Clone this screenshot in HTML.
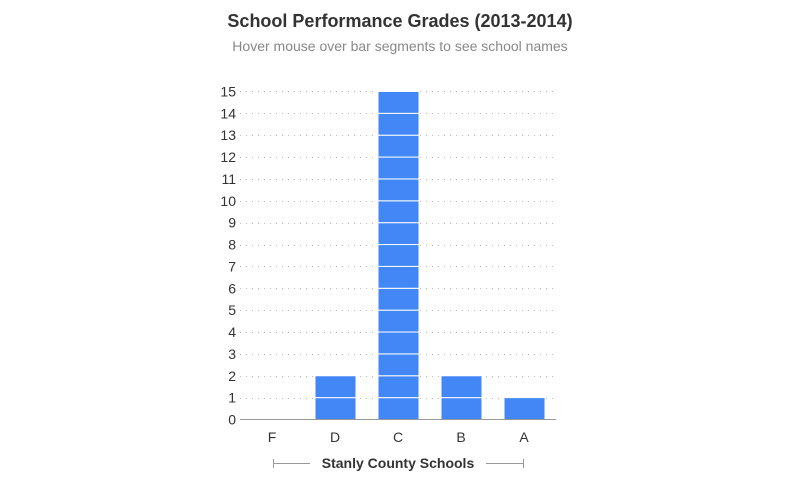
<!DOCTYPE html>
<html><head><style>body{margin:0;background:#fff}svg{display:block}</style></head><body>
<svg width="800" height="500" xmlns="http://www.w3.org/2000/svg" font-family="Liberation Sans, sans-serif">
<text x="400" y="27" text-anchor="middle" font-size="18" font-weight="bold" fill="#333">School Performance Grades (2013-2014)</text>
<text x="400" y="51" text-anchor="middle" font-size="14" fill="#888">Hover mouse over bar segments to see school names</text>
<g id="grid" stroke="#bbb" stroke-dasharray="1,5" stroke-width="1"></g>
<g id="yl" font-size="14" fill="#333" text-anchor="end"></g>
<g id="bars" fill="#4287f5" stroke="#fff" stroke-width="1"></g>
<line x1="240" y1="419.5" x2="556" y2="419.5" stroke="#999" stroke-width="1"/>
<g font-size="14" fill="#333" text-anchor="middle">
<text x="272" y="442">F</text><text x="335" y="442">D</text><text x="398" y="442">C</text><text x="461" y="442">B</text><text x="524" y="442">A</text>
</g>
<line x1="273" y1="463.5" x2="310" y2="463.5" stroke="#999"/><line x1="273.5" y1="459" x2="273.5" y2="468" stroke="#999"/>
<line x1="486" y1="463.5" x2="523" y2="463.5" stroke="#999"/><line x1="523.5" y1="459" x2="523.5" y2="468" stroke="#999"/>
<text x="398" y="468" text-anchor="middle" font-size="14" font-weight="bold" fill="#333">Stanly County Schools</text>
</svg>
<script>
var ns="http://www.w3.org/2000/svg",u=21.87,b=419.5;
var g=document.getElementById("grid"),yl=document.getElementById("yl"),bars=document.getElementById("bars");
for(var i=0;i<=15;i++){var y=b-i*u;
if(i>0){var l=document.createElementNS(ns,"line");l.setAttribute("x1",240);l.setAttribute("x2",556);l.setAttribute("y1",Math.round(y)+0.5);l.setAttribute("y2",Math.round(y)+0.5);g.appendChild(l);}
var t=document.createElementNS(ns,"text");t.setAttribute("x",236);t.setAttribute("y",y+5);t.textContent=i;yl.appendChild(t);}
[[315,2],[378,15],[441,2],[504,1]].forEach(function(d){for(var k=0;k<d[1];k++){var r=document.createElementNS(ns,"rect");r.setAttribute("x",d[0]);r.setAttribute("width",41);r.setAttribute("y",b-(k+1)*u);r.setAttribute("height",u);bars.appendChild(r);}});
</script>
</body></html>
